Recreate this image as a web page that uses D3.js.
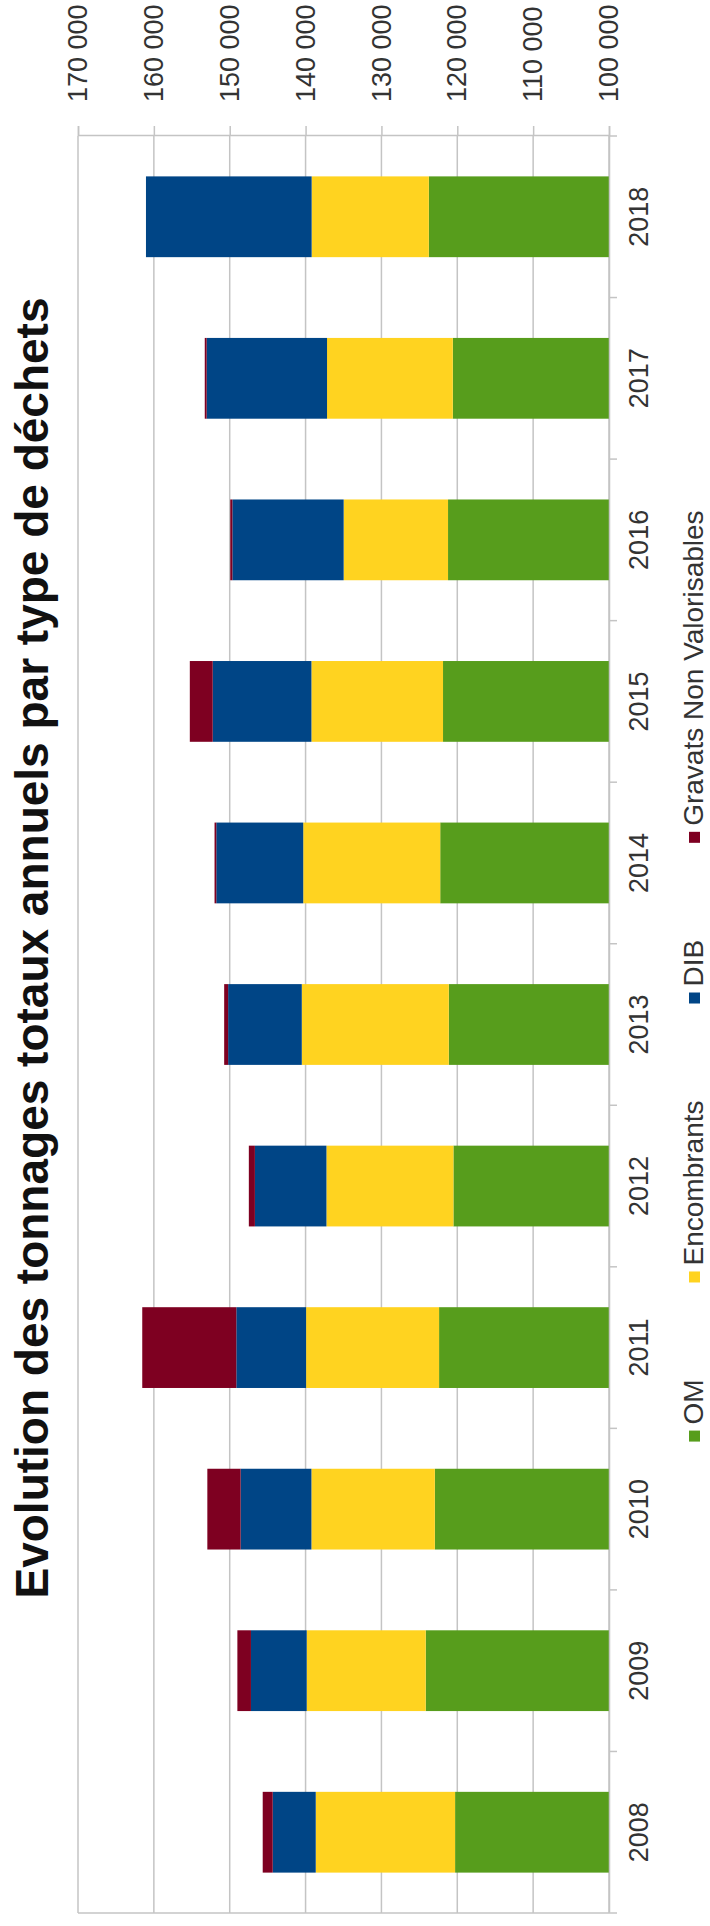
<!DOCTYPE html>
<html>
<head>
<meta charset="utf-8">
<script src="https://cdn.jsdelivr.net/npm/d3@7"></script>
<style>
  html, body { margin: 0; padding: 0; background: #fff; }
  svg { display: block; }
  text { font-family: "Liberation Sans", Arial, Helvetica, sans-serif; }
</style>
</head>
<body>
<svg id="chart" width="710" height="1926"></svg>
<script>
// Annual waste tonnages by type (tonnes, cumulative base is the OM tonnage)
const years = ["2008", "2009", "2010", "2011", "2012", "2013", "2014", "2015", "2016", "2017", "2018"];
const om          = [120290, 124160, 122960, 122400, 120510, 121120, 122250, 121880, 121220, 120590, 123750];
const encombrants = [18370, 15690, 16270, 17530, 16740, 19380, 18060, 17350, 13760, 16580, 15450];
const dib         = [5670, 7350, 9330, 9200, 9430, 9710, 11460, 13010, 14670, 15870, 21840];
const gravats     = [1320, 1790, 4390, 12400, 800, 520, 230, 3020, 280, 250, 0];

const seriesKeys   = ["OM", "Encombrants", "DIB", "Gravats Non Valorisables"];
const seriesColors = ["#579d1c", "#ffd320", "#004586", "#7e0021"];
const valueTicks   = [100000, 110000, 120000, 130000, 140000, 150000, 160000, 170000];
const title = "Evolution des tonnages totaux annuels par type de déchets";

// Table for d3.stack built from the arrays above
const table = years.map((y, i) => ({
  year: y,
  "OM": om[i],
  "Encombrants": encombrants[i],
  "DIB": dib[i],
  "Gravats Non Valorisables": gravats[i]
}));

// The chart is laid out landscape (W x H) and turned a quarter turn
// counter-clockwise so it reads from the bottom of the page upward.
const W = 1926, H = 710;
const plot = { left: 13, right: 1790, top: 78, bottom: 609 };

const svg = d3.select("#chart");
const g = svg.append("g").attr("transform", `translate(0,${W}) rotate(-90)`);

const fmt = d3.formatLocale({ decimal: ",", thousands: " ", grouping: [3], currency: ["", " €"] }).format(",d");

const x = d3.scaleBand()
  .domain(years)
  .range([plot.left, plot.right])
  .paddingInner(0.5)
  .paddingOuter(0.25);

const y = d3.scaleLinear()
  .domain([100000, 170000])
  .range([plot.bottom, plot.top])
  .clamp(true);

const gridColor = "#c4c4c4";
const textColor = "#333333";

// Horizontal gridlines
g.append("g")
  .selectAll("line")
  .data(valueTicks)
  .join("line")
  .attr("x1", plot.left)
  .attr("x2", plot.right)
  .attr("y1", d => y(d))
  .attr("y2", d => y(d))
  .attr("stroke", gridColor)
  .attr("stroke-width", 1.5);

// Left border of the plot area
g.append("line")
  .attr("x1", plot.left).attr("x2", plot.left)
  .attr("y1", plot.top).attr("y2", plot.bottom)
  .attr("stroke", gridColor).attr("stroke-width", 1.5);

// Stacked bars
const stacked = d3.stack().keys(seriesKeys)(table);
const color = d3.scaleOrdinal().domain(seriesKeys).range(seriesColors);

g.append("g")
  .selectAll("g")
  .data(stacked)
  .join("g")
  .attr("fill", d => color(d.key))
  .selectAll("rect")
  .data(d => d)
  .join("rect")
  .attr("x", d => x(d.data.year))
  .attr("width", x.bandwidth())
  .attr("y", d => y(d[1]))
  .attr("height", d => Math.max(0, y(d[0]) - y(d[1])));

// Value axis on the right
const yAxis = g.append("g")
  .attr("transform", `translate(${plot.right},0)`)
  .call(d3.axisRight(y).tickValues(valueTicks).tickFormat(fmt).tickSize(10).tickPadding(24));
yAxis.select(".domain").attr("stroke", gridColor).attr("stroke-width", 1.5);
yAxis.selectAll(".tick line").attr("stroke", gridColor).attr("stroke-width", 1.5);
yAxis.selectAll(".tick text")
  .attr("fill", textColor)
  .style("font-size", "27px");

// Category axis along the bottom, ticks between categories
const xAxis = g.append("g")
  .attr("transform", `translate(0,${plot.bottom})`)
  .call(d3.axisBottom(x).tickSize(0).tickPadding(20));
xAxis.select(".domain").attr("stroke", gridColor).attr("stroke-width", 1.5);
xAxis.selectAll(".tick text")
  .attr("fill", textColor)
  .style("font-size", "27px");

const step = x.step();
const bounds = years.map(d => x(d) - step * x.paddingInner() / 2)
  .concat([x(years[years.length - 1]) + x.bandwidth() + step * x.paddingInner() / 2]);
g.append("g")
  .selectAll("line")
  .data(bounds)
  .join("line")
  .attr("x1", d => d).attr("x2", d => d)
  .attr("y1", plot.bottom).attr("y2", plot.bottom + 8)
  .attr("stroke", gridColor).attr("stroke-width", 1.5);

// Title
g.append("text")
  .attr("x", 978)
  .attr("y", 48)
  .attr("text-anchor", "middle")
  .attr("fill", "#111")
  .style("font-size", "46px")
  .style("font-weight", "bold")
  .text(title);

// Legend
const legend = g.append("g");
const marker = 11, markerGap = 6, itemGap = 97, legendBaseline = 703, legendCenter = 950;
const items = legend.selectAll("g")
  .data(seriesKeys)
  .join("g");
items.append("rect")
  .attr("width", marker).attr("height", marker)
  .attr("y", legendBaseline - 14)
  .attr("fill", d => color(d));
items.append("text")
  .attr("x", marker + markerGap)
  .attr("y", legendBaseline)
  .attr("fill", textColor)
  .style("font-size", "28px")
  .text(d => d);

const widths = [];
items.each(function () {
  widths.push(marker + markerGap + this.querySelector("text").getComputedTextLength());
});
const total = d3.sum(widths) + itemGap * (widths.length - 1);
let cur = legendCenter - total / 2;
items.attr("transform", (d, i) => {
  const t = `translate(${cur},0)`;
  cur += widths[i] + itemGap;
  return t;
});
</script>
</body>
</html>
